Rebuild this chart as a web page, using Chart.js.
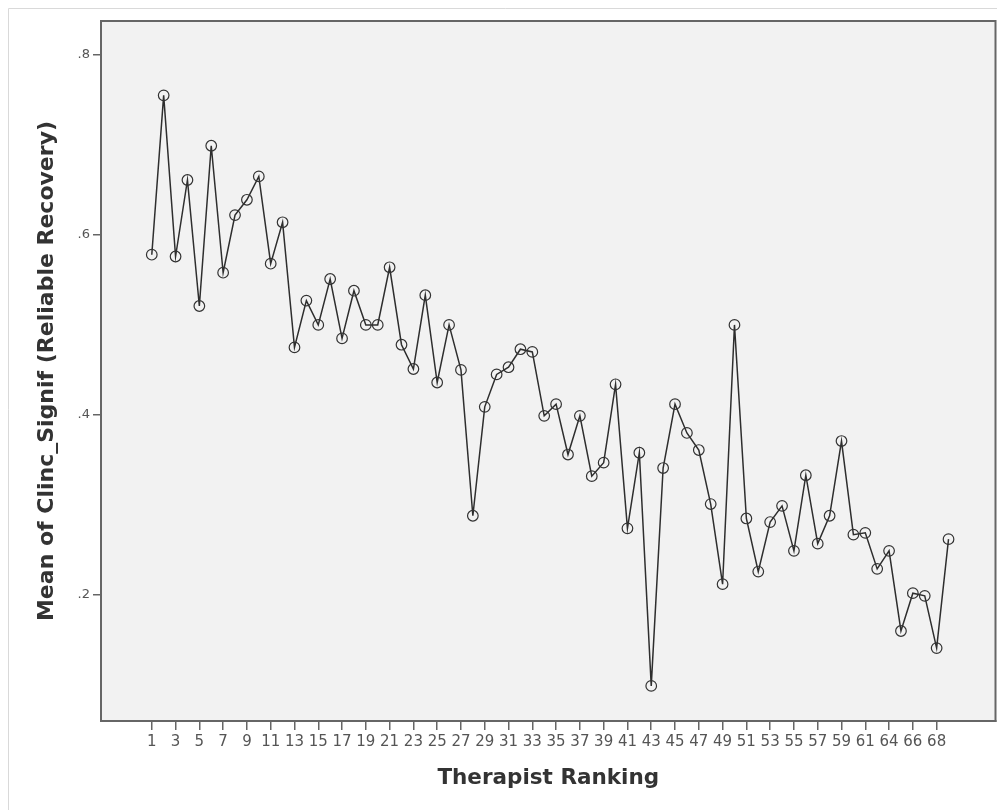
<!DOCTYPE html>
<html>
<head>
<meta charset="utf-8">
<script src="https://cdn.jsdelivr.net/npm/chart.js@4/dist/chart.umd.min.js"></script>
<style>
  html, body { margin: 0; padding: 0; background: #fff; overflow: hidden; }
  #wrap { width: 1002px; height: 810px; position: relative; }
  canvas { display: block; }
</style>
</head>
<body>
<div id="wrap"><canvas id="chart"></canvas></div>
<script>
// therapist ranking categories (62 or 63 is absent in the source)
const categories = [
  1, 2, 3, 4, 5, 6, 7, 8, 9, 10, 11, 12, 13, 14, 15, 16, 17, 18, 19, 20,
  21, 22, 23, 24, 25, 26, 27, 28, 29, 30, 31, 32, 33, 34, 35, 36, 37, 38, 39, 40,
  41, 42, 43, 44, 45, 46, 47, 48, 49, 50, 51, 52, 53, 54, 55, 56, 57, 58, 59, 60,
  61, 63, 64, 65, 66, 67, 68, 69
];

// mean of Clinc_Signif per therapist
const meanRecovery = [
  0.578, 0.755, 0.576, 0.661, 0.521, 0.699, 0.558, 0.622, 0.639, 0.665,
  0.568, 0.614, 0.475, 0.527, 0.500, 0.551, 0.485, 0.538, 0.500, 0.500,
  0.564, 0.478, 0.451, 0.533, 0.436, 0.500, 0.450, 0.288, 0.409, 0.445,
  0.453, 0.473, 0.470, 0.399, 0.412, 0.356, 0.399, 0.332, 0.347, 0.434,
  0.274, 0.358, 0.099, 0.341, 0.412, 0.380, 0.361, 0.301, 0.212, 0.500,
  0.285, 0.226, 0.281, 0.299, 0.249, 0.333, 0.257, 0.288, 0.371, 0.267,
  0.269, 0.229, 0.249, 0.160, 0.202, 0.199, 0.141, 0.262
];

const yTicks = [0.2, 0.4, 0.6, 0.8];
const xTickEvery = 2;

const points = meanRecovery.map((v, i) => ({ x: i + 1, y: v }));

// plot background + frame
const framePlugin = {
  id: 'frame',
  beforeDraw(chart) {
    const { ctx, chartArea: a } = chart;
    ctx.save();
    ctx.strokeStyle = '#d9d9d9';
    ctx.lineWidth = 1;
    ctx.beginPath();
    ctx.moveTo(8.5, 810);
    ctx.lineTo(8.5, 8.5);
    ctx.lineTo(1002, 8.5);
    ctx.stroke();
    ctx.fillStyle = '#f2f2f2';
    ctx.fillRect(a.left, a.top, a.right - a.left, a.bottom - a.top);
    ctx.restore();
  },
  afterDraw(chart) {
    const { ctx, chartArea: a } = chart;
    ctx.save();
    ctx.strokeStyle = '#666';
    ctx.lineWidth = 2;
    ctx.strokeRect(a.left, a.top, a.right - a.left, a.bottom - a.top);
    ctx.restore();
  }
};

new Chart(document.getElementById('chart'), {
  type: 'line',
  data: {
    datasets: [{
      data: points,
      borderColor: '#2e2e2e',
      borderWidth: 1.5,
      pointRadius: 5.3,
      pointBorderWidth: 1.2,
      pointBorderColor: '#333',
      pointBackgroundColor: 'rgba(0,0,0,0)',
      tension: 0
    }]
  },
  options: {
    responsive: true,
    maintainAspectRatio: false,
    animation: false,
    layout: { padding: { top: 21, right: 1, left: 0, bottom: 0 } },
    plugins: { legend: { display: false }, tooltip: { enabled: false } },
    scales: {
      x: {
        type: 'linear',
        min: -3.27,
        max: 71.95,
        afterBuildTicks: s => {
          s.ticks = categories
            .map((c, i) => i + 1)
            .filter(p => (p - 1) % xTickEvery === 0)
            .map(p => ({ value: p }));
        },
        afterFit: s => {
          s.height = 89;
          s.paddingLeft = 0;
          s.paddingRight = 0;
        },
        ticks: {
          autoSkip: false,
          maxRotation: 0,
          minRotation: 0,
          padding: 3,
          color: '#555',
          font: { family: 'DejaVu Sans', size: 15 },
          callback: v => String(categories[v - 1])
        },
        grid: { drawOnChartArea: false, drawTicks: true, tickLength: 9, color: '#666', lineWidth: 1.5 },
        border: { display: true, color: '#666', width: 2 },
        title: {
          display: true,
          text: 'Therapist Ranking',
          color: '#333',
          font: { family: 'DejaVu Sans', size: 21.5, weight: 'bold' },
          padding: { top: 0, bottom: 19 }
        }
      },
      y: {
        min: 0.06,
        max: 0.8376,
        afterBuildTicks: s => { s.ticks = yTicks.map(v => ({ value: v })); },
        afterFit: s => { s.width = 101; },
        ticks: {
          padding: 3,
          color: '#555',
          font: { family: 'DejaVu Sans', size: 13 },
          callback: v => v.toFixed(1).replace(/^0/, '')
        },
        grid: { drawOnChartArea: false, drawTicks: true, tickLength: 8, color: '#666', lineWidth: 1.5 },
        border: { display: true, color: '#666', width: 2 },
        title: {
          display: true,
          text: 'Mean of Clinc_Signif (Reliable Recovery)',
          color: '#333',
          font: { family: 'DejaVu Sans', size: 22, weight: 'bold' },
          padding: { top: 34, bottom: 0 }
        }
      }
    }
  },
  plugins: [framePlugin]
});
</script>
</body>
</html>
